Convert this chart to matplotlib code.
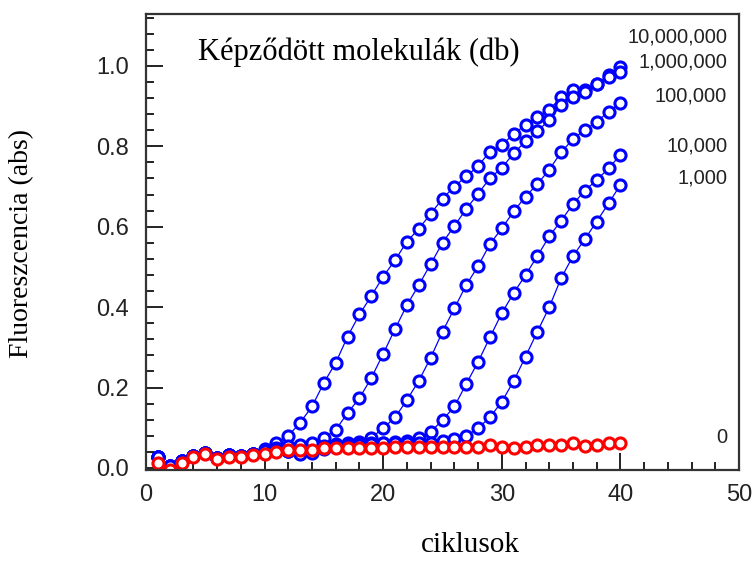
import matplotlib
matplotlib.use("Agg")
import matplotlib.pyplot as plt
from matplotlib.ticker import MultipleLocator

# cycle numbers and fluorescence readings
cycles = list(range(1, 41))

early_blue = [0.027, 0.005, 0.018, 0.030, 0.038, 0.026, 0.032, 0.030, 0.036, 0.042]

curve_1e7 = early_blue[:9] + [0.047, 0.062, 0.080, 0.113, 0.153, 0.212, 0.262, 0.327, 0.382,
                              0.428, 0.476, 0.517, 0.563, 0.595, 0.632, 0.670, 0.700, 0.725,
                              0.751, 0.787, 0.803, 0.831, 0.853, 0.874, 0.891, 0.922, 0.940,
                              0.940, 0.955, 0.977, 0.998]
curve_1e6 = early_blue + [0.050, 0.055, 0.058, 0.062, 0.075, 0.095, 0.137, 0.174, 0.224,
                          0.284, 0.346, 0.405, 0.455, 0.507, 0.560, 0.602, 0.644, 0.682,
                          0.721, 0.746, 0.783, 0.812, 0.837, 0.866, 0.903, 0.922, 0.935,
                          0.955, 0.972, 0.986]
curve_1e5 = early_blue + [0.045, 0.042, 0.040, 0.042, 0.055, 0.060, 0.062, 0.065, 0.075,
                          0.099, 0.126, 0.169, 0.217, 0.274, 0.339, 0.397, 0.455, 0.502,
                          0.557, 0.596, 0.638, 0.675, 0.706, 0.742, 0.785, 0.818, 0.841,
                          0.861, 0.886, 0.907]
curve_1e4 = early_blue + [0.045, 0.042, 0.038, 0.040, 0.050, 0.055, 0.058, 0.060, 0.062,
                          0.063, 0.065, 0.068, 0.074, 0.090, 0.119, 0.153, 0.209, 0.264,
                          0.325, 0.385, 0.435, 0.480, 0.527, 0.576, 0.615, 0.656, 0.690,
                          0.716, 0.745, 0.779]
curve_1e3 = early_blue + [0.045, 0.042, 0.036, 0.038, 0.048, 0.052, 0.055, 0.058, 0.060,
                          0.061, 0.062, 0.062, 0.063, 0.063, 0.066, 0.073, 0.080, 0.099,
                          0.126, 0.165, 0.216, 0.277, 0.339, 0.400, 0.472, 0.527, 0.569,
                          0.613, 0.658, 0.704]
curve_0 = [0.012, -0.005, 0.013, 0.027, 0.034, 0.022, 0.028, 0.027, 0.033, 0.034,
           0.040, 0.045, 0.044, 0.044, 0.049, 0.049, 0.049, 0.049, 0.049, 0.049,
           0.051, 0.051, 0.051, 0.051, 0.051, 0.051, 0.051, 0.052, 0.057, 0.051,
           0.049, 0.051, 0.057, 0.057, 0.057, 0.061, 0.055, 0.057, 0.063, 0.062]

blue_curves = [curve_1e7, curve_1e6, curve_1e5, curve_1e4, curve_1e3]

copy_labels = ["10,000,000", "1,000,000", "100,000", "10,000", "1,000", "0"]
label_y = [1.072, 1.010, 0.925, 0.801, 0.721, 0.077]

x_ticks = [0, 10, 20, 30, 40, 50]
y_ticks = [0.0, 0.2, 0.4, 0.6, 0.8, 1.0]

fig = plt.figure(figsize=(7.55, 5.61), dpi=100)
ax = fig.add_axes([0.1934, 0.1622, 0.7854, 0.8128])

marker_style = dict(marker="o", markersize=8, markeredgewidth=2.2,
                    markerfacecolor="white", linewidth=0.9)

for values in blue_curves:
    ax.plot(cycles, values, color="#0000ff", markeredgecolor="#0000ff", **marker_style)
ax.plot(cycles, curve_0, color="#ff0000", markeredgecolor="#ff0000", **marker_style)

ax.set_xlim(0, 50)
ax.set_ylim(-0.005, 1.129)
ax.set_xticks(x_ticks)
ax.set_yticks(y_ticks)
ax.set_yticklabels([f"{v:.1f}" for v in y_ticks])
ax.xaxis.set_minor_locator(MultipleLocator(2))
ax.yaxis.set_minor_locator(MultipleLocator(0.04))

ax.tick_params(which="both", direction="in", top=False, right=False, color="#222222", width=1.4)
ax.tick_params(which="major", length=12)
ax.tick_params(which="minor", length=6)
ax.tick_params(axis="y", which="major", pad=12)
ax.tick_params(axis="x", which="major", pad=10)
for lab in ax.get_xticklabels() + ax.get_yticklabels():
    lab.set_family("Liberation Sans")
    lab.set_fontsize(17)
    lab.set_color("#222222")

for sp in ax.spines.values():
    sp.set_linewidth(1.6)
    sp.set_color("#333333")

ax.text(4.4, 1.035, "Képződött molekulák (db)", family="Liberation Serif",
        fontsize=22, ha="left", va="center")

for txt, yv in zip(copy_labels, label_y):
    ax.text(49.0, yv, txt, family="Liberation Sans", fontsize=14.5,
            ha="right", va="center", color="#222222")

fig.text(22 / 755, 1 - 243 / 561, "Fluoreszcencia (abs)", family="Liberation Serif",
         fontsize=20, rotation=90, ha="center", va="center")
fig.text(470 / 755, 1 - 545 / 561, "ciklusok", family="Liberation Serif",
         fontsize=21, ha="center", va="center")

fig.savefig("out.png", dpi=100)
